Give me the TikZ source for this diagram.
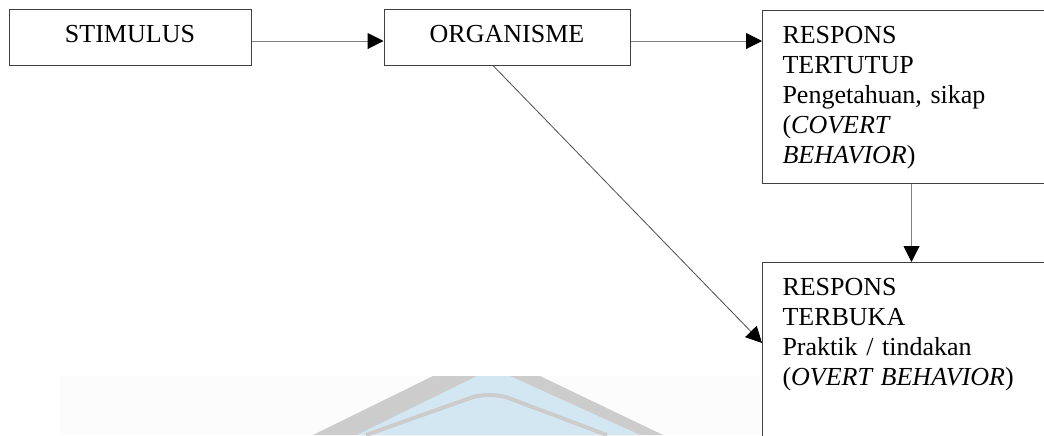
\documentclass[tikz,border=0pt]{standalone}
\usepackage{fontspec}
\setmainfont{Liberation Serif}
\usetikzlibrary{arrows.meta}
\definecolor{wmblue}{RGB}{211,231,243}

\begin{document}
\begin{tikzpicture}[x=0.5pt,y=-0.5pt,
	box/.style={draw=black!75,line width=0.5pt,inner sep=0pt,font=\fontsize{13}{15}\selectfont},
	respbox/.style={box,anchor=north west,align=left,text width=129pt,inner xsep=10pt,text height=16.5pt},
	arrowline/.style={draw=black!50,line width=0.5pt,-{Triangle[length=8pt,width=8pt,color=black]}}]
	\useasboundingbox (0,0) rectangle (1044,435);
	\clip (0,0) rectangle (1044,435);
	% watermark
	\begin{scope}
		\clip (0,376) rectangle (1044,435);
		\fill[black!1] (60,376) rectangle (760,435);
		\fill[black!20] (313,435) -- (433,376) -- (540,376) -- (663,435) -- cycle;
		\fill[wmblue] (357,435) -- (477,376) -- (510,376) -- (640,435) -- cycle;
		\draw[black!20,line width=2pt,rounded corners=10] (366,435) -- (490,391) -- (607,435);
	\end{scope}
	% boxes
	\node[box,minimum width=121pt,minimum height=28pt,text depth=3pt] (stim) at (130,37) {STIMULUS};
	\node[box,minimum width=123pt,minimum height=28pt,text depth=3pt] (org) at (507,37) {ORGANISME};
	\node[respbox,text depth=70pt] (tertutup) at (762,10) {RESPONS\\TERTUTUP\\Pengetahuan, sikap\\(\textit{COVERT}\\\textit{BEHAVIOR})};
	\node[respbox,text depth=150pt] (terbuka) at (762,262) {RESPONS\\TERBUKA\\Praktik / tindakan\\(\textit{OVERT BEHAVIOR})};
	% arrows
	\draw[arrowline] ([yshift=-2pt]stim.east) -- ([yshift=-2pt]org.west);
	\draw[arrowline] ([yshift=-2pt]org.east) -- ([yshift=-2pt]org.east -| tertutup.west);
	\draw[arrowline] (tertutup.south) -- (terbuka.north);
	\draw[arrowline,draw=black!70,line width=0.4pt] ([xshift=-7pt]org.south) -- ([yshift=-40.5pt]terbuka.north west);
\end{tikzpicture}
\end{document}
